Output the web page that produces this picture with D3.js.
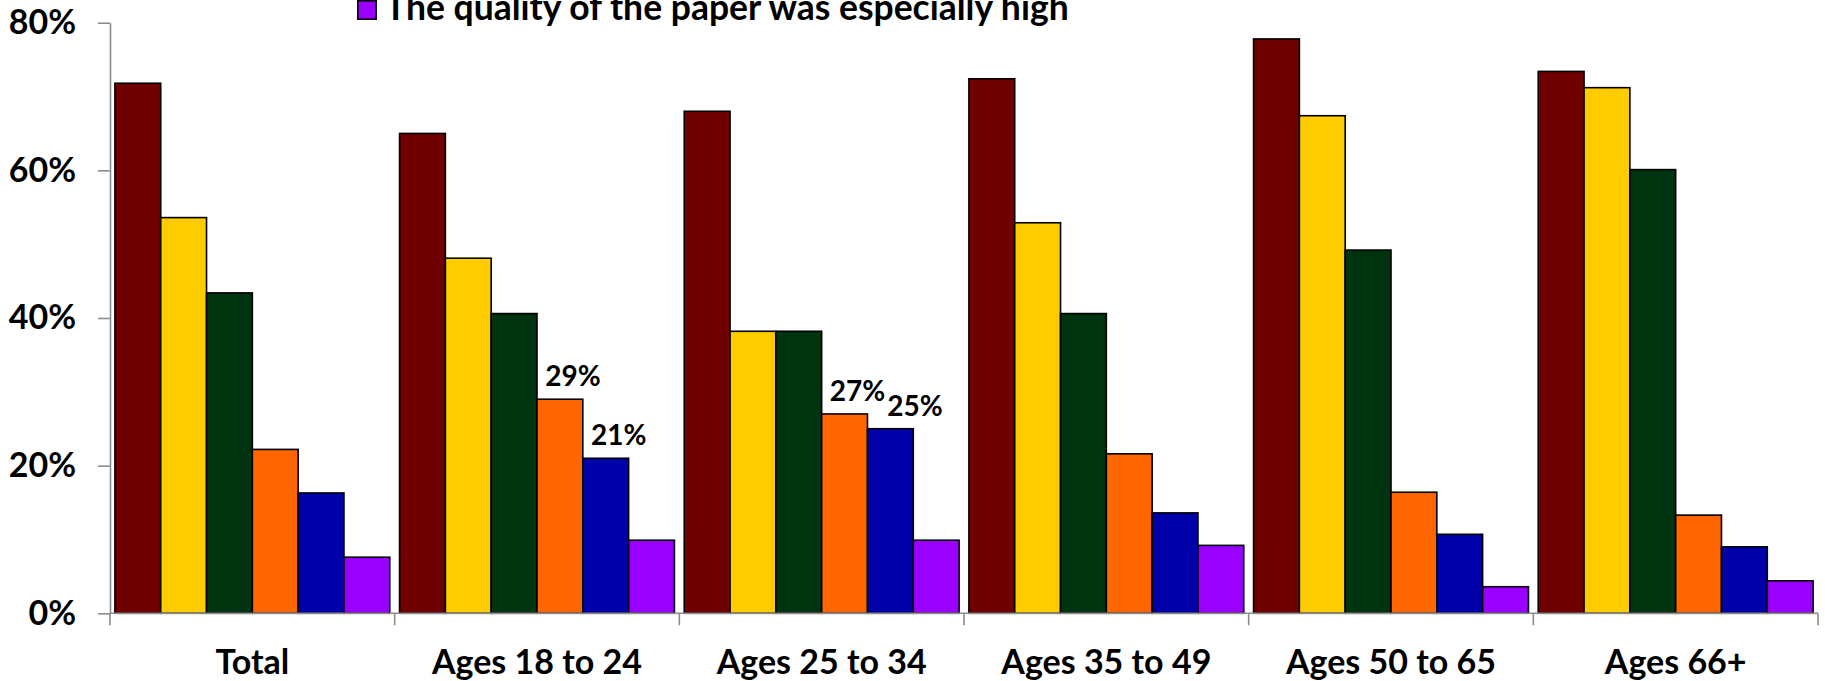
<!DOCTYPE html>
<html>
<head>
<meta charset="utf-8">
<script src="https://cdn.jsdelivr.net/npm/d3@7/dist/d3.min.js"></script>
<style>
  html, body { margin: 0; padding: 0; background: #fff; }
  svg { display: block; }
  text { font-family: Lato, "Open Sans", sans-serif; font-weight: bold; fill: #000; }
</style>
</head>
<body>
<svg id="chart" width="1825" height="681"></svg>
<script>
// Age groups along the x axis
const categories = ["Total", "Ages 18 to 24", "Ages 25 to 34", "Ages 35 to 49", "Ages 50 to 65", "Ages 66+"];

// Six answer series (percent of respondents), one value per age group
const seriesKeys = ["s1", "s2", "s3", "s4", "s5", "s6"];
const s1 = [71.8, 65.0, 68.0, 72.4, 77.8, 73.4];
const s2 = [53.6, 48.1, 38.2, 52.9, 67.4, 71.2];
const s3 = [43.4, 40.6, 38.2, 40.6, 49.2, 60.1];
const s4 = [22.2, 29, 27, 21.6, 16.4, 13.3];
const s5 = [16.3, 21, 25, 13.6, 10.7, 9.0];
const s6 = [7.6, 9.9, 9.9, 9.2, 3.6, 4.4];
const seriesValues = [s1, s2, s3, s4, s5, s6];
const seriesColors = ["#700000", "#FFCC00", "#00330F", "#FF6600", "#0000AA", "#9900FF"];

// Bars that carry a value label: [series index, category index]
const labelled = [[3, 1], [4, 1], [3, 2], [4, 2]];

// Visible legend entry
const legendLabel = "The quality of the paper was especially high";
const legendSeries = 5;

// Y axis ticks
const yTicks = [0, 20, 40, 60, 80];
const yTickLabels = ["0%", "20%", "40%", "60%", "80%"];

const svg = d3.select("#chart");

const plot = { left: 110, right: 1818, top: 22.7, bottom: 613.3 };

const x0 = d3.scaleBand()
  .domain(categories)
  .range([plot.left, plot.right])
  .paddingInner(0)
  .paddingOuter(0);

const x1 = d3.scaleBand()
  .domain(seriesKeys)
  .range([0, x0.bandwidth()])
  .paddingInner(0)
  .paddingOuter(0.107);

const y = d3.scaleLinear()
  .domain([0, 80])
  .range([plot.bottom, plot.top]);

const axisColor = "#8c8c8c";

// Bars
const groups = svg.append("g").selectAll("g")
  .data(categories)
  .join("g")
  .attr("transform", d => `translate(${x0(d)},0)`);

groups.selectAll("rect")
  .data((c, ci) => seriesKeys.map((k, si) => ({ key: k, si, ci, v: seriesValues[si][ci] })))
  .join("rect")
  .attr("x", d => x1(d.key))
  .attr("y", d => y(d.v))
  .attr("width", x1.bandwidth())
  .attr("height", d => y(0) - y(d.v))
  .attr("fill", d => seriesColors[d.si])
  .attr("stroke", "#000")
  .attr("stroke-width", 1.6);

// Y axis
const yAxis = d3.axisLeft(y)
  .tickValues(yTicks)
  .tickFormat((d, i) => yTickLabels[i])
  .tickSize(12)
  .tickSizeOuter(0)
  .tickPadding(22);

const yg = svg.append("g")
  .attr("transform", `translate(${plot.left},0)`)
  .call(yAxis);
yg.select(".domain").attr("stroke", axisColor).attr("stroke-width", 1.6);
yg.selectAll(".tick line").attr("stroke", axisColor).attr("stroke-width", 1.6);
yg.selectAll(".tick text")
  .attr("font-family", "Lato, sans-serif")
  .attr("font-weight", "bold")
  .attr("font-size", 34)
  .attr("fill", "#000");

// X axis: baseline, group boundary ticks and centred labels
const xg = svg.append("g");
xg.append("line")
  .attr("x1", plot.left).attr("x2", plot.right)
  .attr("y1", y(0)).attr("y2", y(0))
  .attr("stroke", axisColor).attr("stroke-width", 1.6);

const boundaries = categories.map(c => x0(c)).concat([x0(categories[categories.length - 1]) + x0.bandwidth()]);
xg.selectAll("line.bound")
  .data(boundaries)
  .join("line")
  .attr("class", "bound")
  .attr("x1", d => d).attr("x2", d => d)
  .attr("y1", y(0)).attr("y2", y(0) + 12)
  .attr("stroke", axisColor).attr("stroke-width", 1.6);

xg.selectAll("text")
  .data(categories)
  .join("text")
  .attr("x", d => x0(d) + x0.bandwidth() / 2)
  .attr("y", 674)
  .attr("text-anchor", "middle")
  .attr("font-size", 34)
  .text(d => d);

// Value labels above selected bars; a label that would run into the one
// before it is pushed right so the two sit side by side
const valueLabels = svg.append("g").selectAll("text")
  .data(labelled)
  .join("text")
  .attr("x", ([si, ci]) => x0(categories[ci]) + x1(seriesKeys[si]) + x1.bandwidth() / 2 + 13)
  .attr("y", ([si, ci]) => y(seriesValues[si][ci]) - 13)
  .attr("text-anchor", "middle")
  .attr("font-size", 28)
  .text(([si, ci]) => Math.round(seriesValues[si][ci]) + "%");

let prevBox = null;
valueLabels.each(function () {
  const box = this.getBBox();
  if (prevBox) {
    const overlapY = box.y < prevBox.y + prevBox.height && prevBox.y < box.y + box.height;
    const push = prevBox.x + prevBox.width + 2 - box.x;
    if (overlapY && push > 0) {
      this.setAttribute("x", +this.getAttribute("x") + push);
      box.x += push;
    }
  }
  prevBox = box;
});

// Legend entry
const lg = svg.append("g").attr("transform", "translate(357,0)");
lg.append("rect")
  .attr("x", 0.8).attr("y", 0.8)
  .attr("width", 18.4).attr("height", 18.4)
  .attr("fill", seriesColors[legendSeries])
  .attr("stroke", "#000").attr("stroke-width", 1.6);
lg.append("text")
  .attr("x", 28)
  .attr("y", 20)
  .attr("font-size", 35.5)
  .text(legendLabel);
</script>
</body>
</html>
